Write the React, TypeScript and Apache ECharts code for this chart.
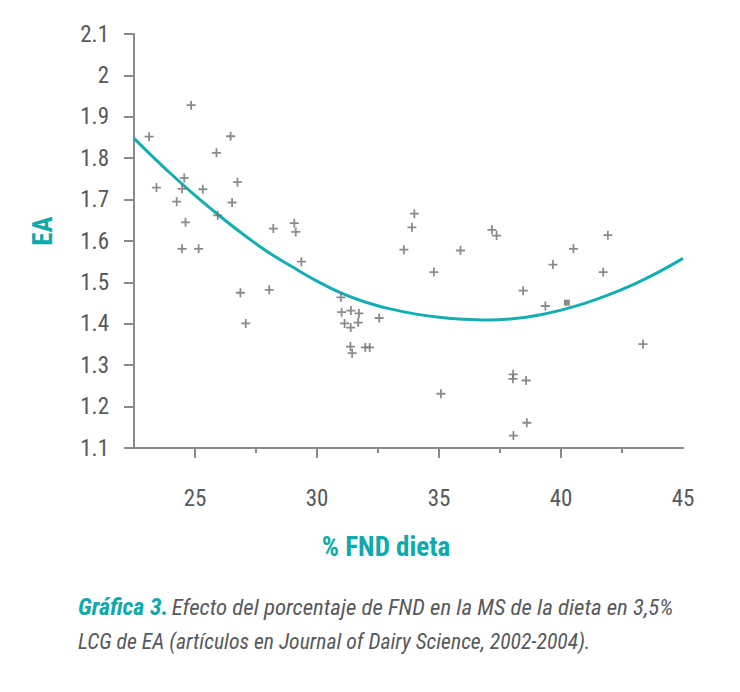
import React, { useEffect, useRef } from "react";
import * as echarts from "echarts";

const xTickLabels = [25, 30, 35, 40, 45];
const xMajorTicks = [25, 30, 35, 40];
const xMinorTicks = [27.5, 32.5, 37.5, 42.5];

const fndX = [
  24.84, 23.12, 26.46, 25.88, 24.56, 23.42, 24.47, 25.32, 26.74, 24.25, 26.52, 24.61, 25.93,
  28.21, 29.07, 29.13, 24.47, 25.15, 29.36, 26.86, 28.04, 27.08, 33.99, 33.89, 33.56, 35.88,
  34.79, 30.98, 31.01, 31.39, 31.72, 31.13, 31.38, 31.69, 32.55, 31.37, 31.44, 31.98, 32.16,
  35.08, 37.17, 37.36, 41.92, 40.51, 39.67, 41.73, 38.45, 39.36, 43.36, 38.04, 38.03, 38.57,
  38.6, 38.05,
];
const eaY = [
  1.928, 1.852, 1.853, 1.813, 1.752, 1.729, 1.726, 1.725, 1.742, 1.695, 1.693, 1.645, 1.662,
  1.63, 1.643, 1.622, 1.581, 1.581, 1.55, 1.475, 1.482, 1.401, 1.666, 1.633, 1.579, 1.577,
  1.525, 1.464, 1.428, 1.432, 1.425, 1.401, 1.391, 1.403, 1.414, 1.345, 1.329, 1.343, 1.343,
  1.231, 1.627, 1.613, 1.614, 1.581, 1.543, 1.525, 1.48, 1.443, 1.351, 1.278, 1.267, 1.263,
  1.161, 1.13,
];
const squareX = [40.24];
const squareY = [1.451];

const curveX = [
  22.5, 23, 24, 25, 26, 27, 28, 29, 30, 31, 32, 33, 34, 35, 36, 37, 38, 39, 40, 41, 42, 43, 44, 45,
];
const curveY = [
  1.848, 1.819, 1.763, 1.71, 1.661, 1.615, 1.573, 1.537, 1.503, 1.474, 1.452, 1.436, 1.424,
  1.416, 1.411, 1.409, 1.412, 1.42, 1.433, 1.45, 1.471, 1.496, 1.525, 1.558,
];

const TEAL = "#10a9ab";
const GRAY = "#58595b";
const AXIS = "#8a8a8c";
const FONT = "'Liberation Sans Narrow', 'Roboto Condensed', 'DejaVu Sans Condensed', 'Noto Sans', sans-serif";

export default function App() {
  const ref = useRef<HTMLDivElement>(null);
  useEffect(() => {
    document.body.style.margin = "0";
    const chart = echarts.init(ref.current!, undefined, { renderer: "svg" });
    const plus = "path://M4,0H6V4H10V6H6V10H4V6H0V4H4Z";
    chart.setOption({
      animation: false,
      grid: { left: 134, top: 34, width: 549, height: 414, containLabel: false },
      xAxis: [
        {
          type: "value",
          min: 22.5,
          max: 45,
          interval: 2.5,
          splitLine: { show: false },
          axisLine: { lineStyle: { color: AXIS, width: 2 } },
          axisTick: { customValues: xMajorTicks, length: 10, lineStyle: { color: AXIS, width: 2 } },
          axisLabel: {
            customValues: xTickLabels,
            margin: 39,
            color: GRAY,
            fontSize: 23,
            fontFamily: FONT,
          },
        },
        {
          type: "value",
          min: 22.5,
          max: 45,
          interval: 2.5,
          position: "bottom",
          splitLine: { show: false },
          axisLine: { show: false },
          axisTick: { customValues: xMinorTicks, length: 5, lineStyle: { color: AXIS, width: 2 } },
          axisLabel: { show: false },
        },
      ],
      yAxis: {
        type: "value",
        min: 1.1,
        max: 2.1,
        interval: 0.1,
        splitLine: { show: false },
        axisLine: { show: true, lineStyle: { color: AXIS, width: 2 } },
        axisTick: { show: true, length: 10, lineStyle: { color: AXIS, width: 2 } },
        axisLabel: {
          margin: 25,
          color: GRAY,
          fontSize: 23,
          fontFamily: FONT,
          formatter: (v: number) => String(Number(v.toFixed(1))),
        },
      },
      graphic: [
        {
          type: "text",
          x: 43,
          y: 231,
          rotation: Math.PI / 2,
          style: {
            text: "EA",
            fill: TEAL,
            font: `bold 27px ${FONT}`,
            align: "center",
            verticalAlign: "middle",
          },
        },
        {
          type: "text",
          x: 386,
          y: 547,
          style: {
            text: "% FND dieta",
            fill: TEAL,
            font: `bold 27px ${FONT}`,
            align: "center",
            verticalAlign: "middle",
          },
        },
        {
          type: "text",
          x: 78,
          y: 607,
          style: {
            text: "{b|Gráfica 3.} {n|Efecto del porcentaje de FND en la MS de la dieta en 3,5%}",
            verticalAlign: "middle",
            rich: {
              b: { fill: TEAL, font: `italic bold 24px ${FONT}` },
              n: { fill: GRAY, font: `italic 22.8px ${FONT}` },
            },
          },
        },
        {
          type: "text",
          x: 78,
          y: 641,
          style: {
            text: "LCG de EA (artículos en Journal of Dairy Science, 2002-2004).",
            fill: GRAY,
            font: `italic 21.7px ${FONT}`,
            verticalAlign: "middle",
          },
        },
      ],
      series: [
        {
          type: "line",
          data: curveX.map((x, i) => [x, curveY[i]]),
          smooth: 0.4,
          showSymbol: false,
          lineStyle: { color: "#14adb1", width: 3 },
          z: 1,
        },
        {
          type: "scatter",
          data: fndX.map((x, i) => [x, eaY[i]]),
          symbol: plus,
          symbolSize: 9,
          itemStyle: { color: "#6d6e71" },
          z: 3,
        },
        {
          type: "scatter",
          data: squareX.map((x, i) => [x, squareY[i]]),
          symbol: "rect",
          symbolSize: 6,
          itemStyle: { color: "#6d6e71" },
          z: 3,
        },
      ],
    });
    return () => chart.dispose();
  }, []);
  return <div ref={ref} style={{ width: 740, height: 692 }} />;
}
